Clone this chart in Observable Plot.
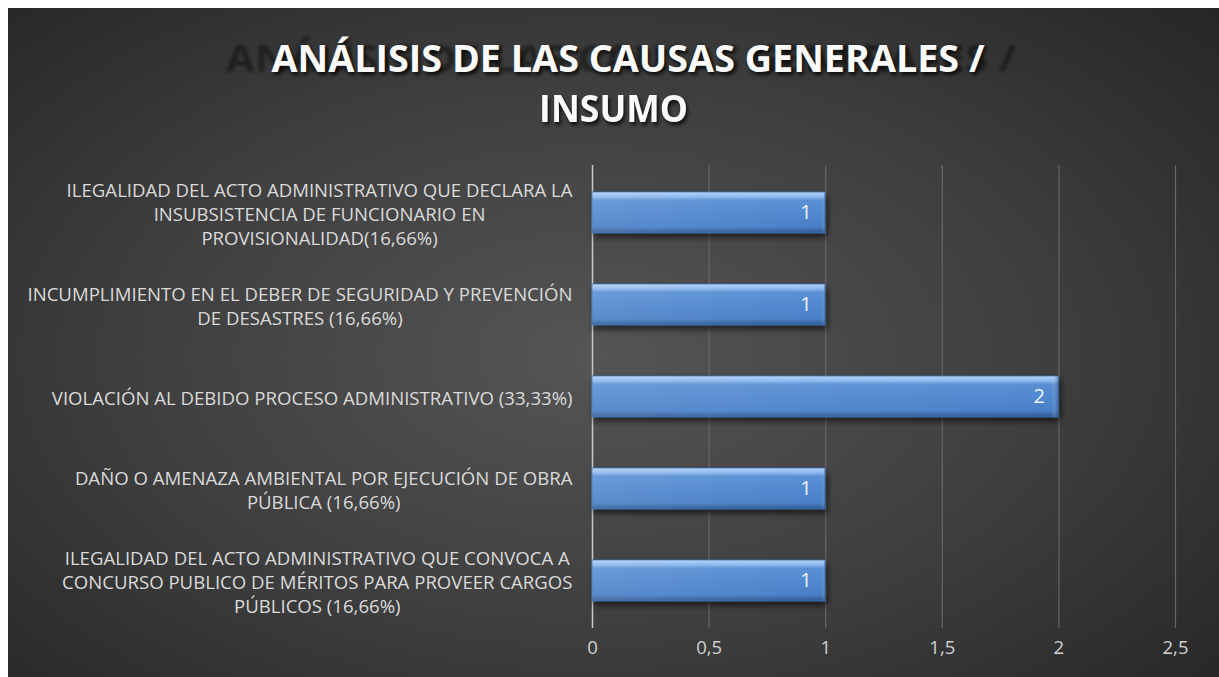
<!DOCTYPE html>
<html>
<head>
<meta charset="utf-8">
<script src="https://cdn.jsdelivr.net/npm/d3@7"></script>
<script src="https://cdn.jsdelivr.net/npm/@observablehq/plot@0.6"></script>
<style>
  html, body { margin: 0; padding: 0; background: #fff; }
  #frame {
    position: absolute; left: 8px; top: 8px; width: 1211px; height: 669px; overflow: hidden;
    background: radial-gradient(ellipse 70% 75% at 48% 52%, #555555 0%, #3e3e3e 55%, #272727 100%);
    font-family: "Open Sans", sans-serif;
  }
  #title { position: relative; height: 150px; }
  .tl { position: absolute; left: 0; width: 100%; text-align: center; white-space: nowrap;
        font-weight: 700; font-size: 38px; line-height: 1; }
  .tl span { display: inline-block; transform-origin: center; }
  .main { color: #fafafa; text-shadow: 2px 3px 4px rgba(0,0,0,0.75); }
  .ghost { color: rgba(15,15,15,0.55); filter: blur(1.6px); }
</style>
</head>
<body>
<div id="frame">
  <div id="title">
    <div class="tl ghost" id="g1" style="top:30px"><span>ANÁLISIS DE LAS CAUSAS GENERALES /</span></div>
    <div class="tl main" id="t1" style="top:30px"><span>ANÁLISIS DE LAS CAUSAS GENERALES /</span></div>
    <div class="tl main" id="t2" style="top:80px"><span>INSUMO</span></div>
  </div>
  <div id="chart"></div>
</div>
<script>
const categories = [
  "ILEGALIDAD DEL ACTO ADMINISTRATIVO QUE DECLARA LA\nINSUBSISTENCIA DE FUNCIONARIO EN\nPROVISIONALIDAD(16,66%)",
  "INCUMPLIMIENTO EN EL DEBER DE SEGURIDAD Y PREVENCIÓN\nDE DESASTRES (16,66%)",
  "VIOLACIÓN AL DEBIDO PROCESO ADMINISTRATIVO (33,33%)",
  "DAÑO O AMENAZA AMBIENTAL POR EJECUCIÓN DE OBRA\nPÚBLICA (16,66%)",
  "ILEGALIDAD DEL ACTO ADMINISTRATIVO QUE CONVOCA A\nCONCURSO PUBLICO DE MÉRITOS PARA PROVEER CARGOS\nPÚBLICOS (16,66%)"
];
const values = [1, 1, 2, 1, 1];
const xTicks = [0, 0.5, 1, 1.5, 2, 2.5];

const data = categories.map((c, i) => ({category: c, value: values[i]}));

// title fitting (condense to Calibri-like width)
function fit(id, target, dxOff) {
  const s = document.querySelector("#" + id + " span");
  const w = s.getBoundingClientRect().width;
  s.style.transform = `translateX(${dxOff}px) scaleX(${target / w})`;
}
fit("t1", 713, 15);
fit("g1", 790, 8);
fit("t2", 149, 0);

const W = 1211, H = 519;
const mL = 584, mR = 44, mT = 7, mB = 49;
const labelSize = 18.6;
const ctx = document.createElement("canvas").getContext("2d");
ctx.font = `${labelSize}px 'Open Sans'`;
const maxW = c => Math.max(...c.split("\n").map(l => ctx.measureText(l).width));

const labelMarks = data.map(d => Plot.text([d], {
  y: "category", text: "category", frameAnchor: "left", textAnchor: "middle",
  dx: -20 - maxW(d.category) / 2, lineHeight: 24 / labelSize, fill: "#dadada",
  fontSize: labelSize
}));

const plot = Plot.plot({
  width: W, height: H,
  marginLeft: mL, marginRight: mR, marginTop: mT, marginBottom: mB,
  style: {background: "transparent", fontFamily: "'Open Sans', sans-serif", overflow: "visible"},
  x: {domain: [0, 2.5], ticks: xTicks},
  y: {domain: categories, paddingInner: 0.55, paddingOuter: 0.275, axis: null},
  marks: [
    Plot.ruleX(xTicks.filter(t => t > 0), {stroke: "#666666", strokeWidth: 1.2}),
    Plot.ruleX([0], {stroke: "#c8c8c8", strokeWidth: 1.5}),
    Plot.barX(data, {y: "category", x: "value", fill: "url(#barGrad)",
      stroke: "#3b6fb3", strokeWidth: 0.8}),
    Plot.barX(data, {y: "category", x: "value", fill: "url(#hiGrad)"}),
    Plot.text(data, {y: "category", x: "value", text: d => String(d.value), textAnchor: "end",
      dx: -14, fill: "#eef3fa", fontSize: 20}),
    Plot.axisX({ticks: xTicks, tickSize: 0, tickPadding: 12, fontSize: 18.5, fill: "#d0d0d0",
      tickFormat: d => String(d).replace(".", ","), label: null}),
    ...labelMarks
  ]
});

const svg = d3.select(plot);
svg.insert("defs", ":first-child").html(`
  <linearGradient id="barGrad" x1="0" y1="0" x2="0" y2="1">
    <stop offset="0" stop-color="#b4d2f6"/>
    <stop offset="0.12" stop-color="#8ab6ec"/>
    <stop offset="0.2" stop-color="#5a90d4"/>
    <stop offset="0.55" stop-color="#4f87ce"/>
    <stop offset="0.85" stop-color="#4a80c6"/>
    <stop offset="1" stop-color="#2c5894"/>
  </linearGradient>
  <linearGradient id="hiGrad" x1="0" y1="0" x2="1" y2="0">
    <stop offset="0" stop-color="#ffffff" stop-opacity="0.10"/>
    <stop offset="0.985" stop-color="#ffffff" stop-opacity="0"/>
    <stop offset="1" stop-color="#1d3f70" stop-opacity="0.45"/>
  </linearGradient>
  <filter id="shadow" x="-5%" y="-30%" width="110%" height="170%">
    <feDropShadow dx="2" dy="4" stdDeviation="3" flood-color="#000" flood-opacity="0.6"/>
  </filter>
`);
svg.selectAll("g[aria-label='bar']").filter((d, i) => i === 0).attr("filter", "url(#shadow)");
document.getElementById("chart").appendChild(plot);
</script>
</body>
</html>
